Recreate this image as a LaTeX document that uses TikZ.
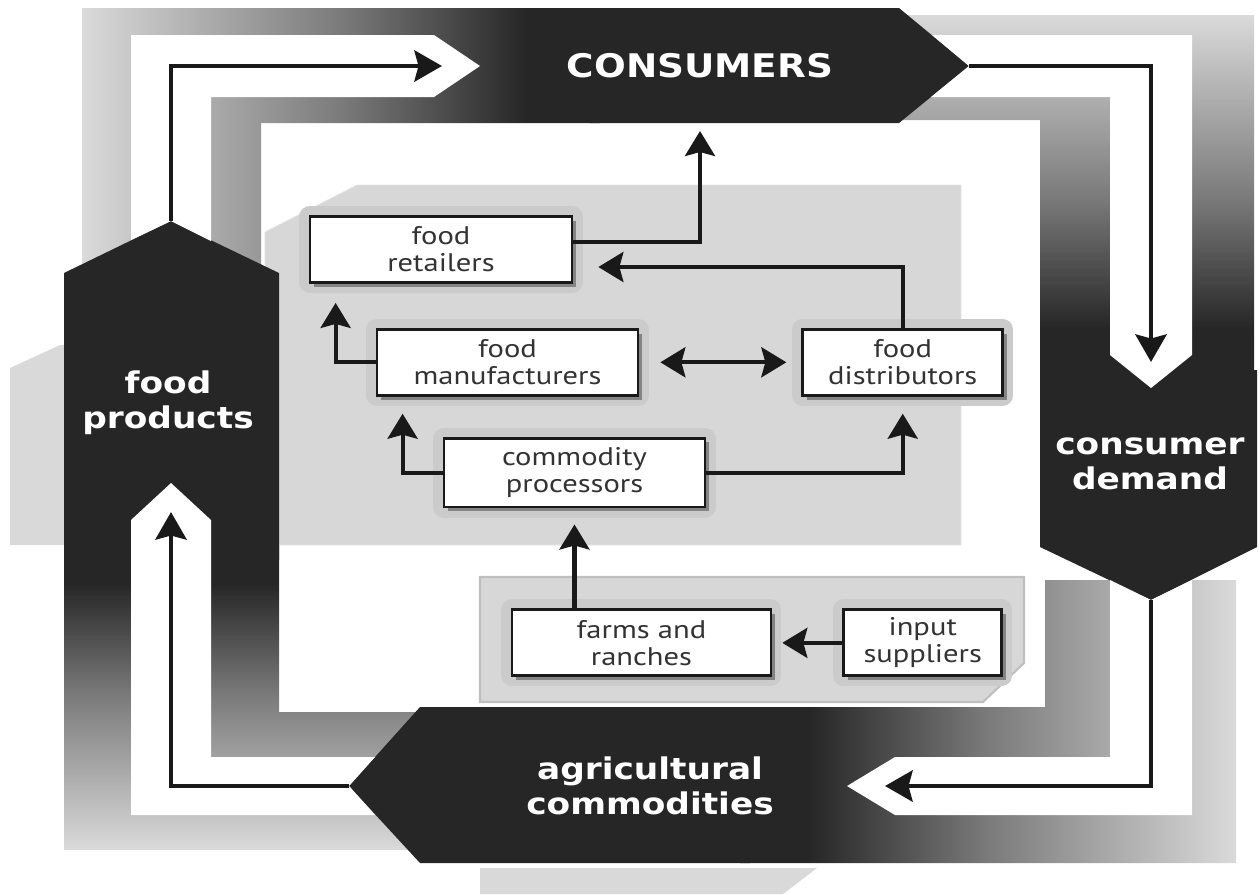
\documentclass[tikz,border=0pt]{standalone}
\usepackage{fontspec}
\setmainfont{PT Sans}[FakeStretch=1.2]
\newfontfamily\hexfont{DejaVu Sans}[FakeStretch=1.15]
\usepackage{xcolor}
\usetikzlibrary{arrows.meta, positioning, shadows}

\definecolor{hexdark}{HTML}{262626}
\definecolor{bandlight}{HTML}{DADADA}
\definecolor{panelgray}{HTML}{D7D7D7}
\definecolor{halogray}{HTML}{CBCBCB}

% light-to-dark fade used by every leg of the ring
\pgfdeclarehorizontalshading{ringfade}{100bp}{color(0bp)=(bandlight); color(25bp)=(bandlight);
  color(50bp)=(black!52); color(68bp)=(hexdark); color(100bp)=(hexdark)}

\begin{document}
\begin{tikzpicture}[
  x=0.02cm, y=-0.02cm,
  box/.style={draw=black!90, line width=1.6pt, fill=white, align=center, text=black!80,
    minimum height=1.32cm, inner sep=2pt, font=\fontsize{14.5}{15.5}\selectfont,
    preaction={draw=halogray, line width=12pt, line join=round},
    drop shadow={shadow xshift=2.5pt, shadow yshift=-2.5pt, fill=black!60, opacity=0.7}},
  arr/.style={-{Stealth[length=0.5cm, width=0.6cm, inset=0.08cm]}, line width=2.3pt, draw=black!90},
  arrs/.style={arr, {Stealth[length=0.5cm, width=0.6cm, inset=0.08cm]}-{Stealth[length=0.5cm, width=0.6cm, inset=0.08cm]}},
  flow/.style={-{Stealth[length=0.55cm, width=0.62cm, inset=0.08cm]}, line width=2.8pt, draw=black!90},
  ring/.style={shading=ringfade, shading angle=#1},
  hex/.style={fill=hexdark},
  lane/.style={fill=white},
  tag/.style={text=white, align=center, font=\hexfont\bfseries\fontsize{17}{20}\selectfont}
]
  \useasboundingbox (0,0) rectangle (1260,894);

  % pale copies behind the side labels
  \fill[black!15] (10,545) -- (10,368) -- (60,345) -- (70,345) -- (70,545) -- cycle;
  \fill[black!15] (480,868) -- (817,868) -- (783,894) -- (480,894) -- cycle;

  % gradient ring, one leg per side
  \shade[ring=0] (82,8) -- (600,8) -- (600,123) -- (261,123) -- (261,290) -- (82,290) -- cycle;
  \shade[ring=-90] (860,15) -- (1254,15) -- (1254,380) -- (1040,380) -- (1040,120) -- (860,120) -- cycle;
  \shade[ring=180] (740,707) -- (1045,707) -- (1045,580) -- (1236,580) -- (1236,863) -- (740,863) -- cycle;
  \shade[ring=90] (64,540) -- (279,540) -- (279,712) -- (440,712) -- (440,850) -- (64,850) -- cycle;

  % inner panels
  \fill[panelgray, draw=black!10] (265,232) -- (357,185) -- (961,185) -- (961,545) -- (265,545) -- cycle;
  \fill[panelgray, draw=black!25, line width=1.2pt] (480,577) -- (1024,577) -- (1024,663) -- (983,702) -- (480,702) -- cycle;

  % dark label shapes
  \fill[hex] (64,273) -- (171,221) -- (279,273) -- (279,560) -- (64,560) -- cycle;
  \fill[hex] (590,8) -- (899,8) -- (969,66) -- (899,123) -- (590,123) -- cycle;
  \fill[hex] (1040,370) -- (1257,370) -- (1257,547) -- (1151,600) -- (1040,547) -- cycle;
  \fill[hex] (349,786) -- (420,707) -- (750,707) -- (750,863) -- (420,863) -- cycle;

  % white lanes
  \fill[lane] (131,240) -- (131,35) -- (434,35) -- (480,66) -- (434,97) -- (211,97) -- (211,241) -- (171,221) -- cycle;
  \fill[lane] (932,35) -- (1192,35) -- (1192,355) -- (1151,388) -- (1110,355) -- (1110,97) -- (931,97) -- (969,66) -- cycle;
  \fill[lane] (1110,580) -- (1151,600) -- (1192,580) -- (1192,815) -- (895,815) -- (847,786) -- (895,757) -- (1110,757) -- cycle;
  \fill[lane] (375,757) -- (349,786) -- (375,815) -- (131,815) -- (131,520) -- (171,483) -- (211,520) -- (211,757) -- cycle;

  \coordinate (fpTop) at (171,221);
  \coordinate (toCons) at (442,66);
  \coordinate (consTip) at (969,66);
  \coordinate (toCd) at (1151,362);
  \coordinate (cdTip) at (1151,600);
  \coordinate (toAg) at (885,786);
  \coordinate (agTip) at (349,786);
  \coordinate (toFp) at (171,512);
  \coordinate (consBase) at (700,131);

  \draw[flow] (fpTop) |- (toCons);
  \draw[flow] (consTip) -| (toCd);
  \draw[flow] (cdTip) |- (toAg);
  \draw[flow] (agTip) -| (toFp);

  \node[tag, font=\hexfont\bfseries\fontsize{18.5}{20}\selectfont] (cons) at (700,66) {CONSUMERS};
  \node[tag] (fp) at (168,403) {food\\products};
  \node[tag] (cd) at (1150,464) {consumer\\demand};
  \node[tag] (ag) at (650,786) {agricultural\\commodities};

  \node[box, minimum width=5.24cm] (retail) at (441,249.5) {food\\retailers};
  \node[box, minimum width=5.22cm, below=0.88cm of retail, xshift=1.33cm] (manuf) {food\\manufacturers};
  \node[box, minimum width=4cm, right=3.24cm of manuf] (distrib) {food\\distributors};
  \node[box, minimum width=5.22cm, minimum height=1.38cm, below=0.8cm of manuf, xshift=1.34cm] (proc) {commodity\\processors};
  \node[box, minimum width=5.18cm, below=2cm of proc, xshift=1.34cm] (farms) {farms and\\ranches};
  \node[box, minimum width=3.16cm, right=1.4cm of farms] (input) {input\\suppliers};

  \draw[arr] ([yshift=0.15cm]retail.east) -| (consBase);
  \draw[arr] (distrib.north) |- ([xshift=0.5cm, yshift=-0.35cm]retail.east);
  \draw[arr] (manuf.west) -| ([xshift=0.54cm, yshift=-0.38cm]retail.south west);
  \draw[arrs] ([xshift=0.42cm]manuf.east) -- ([xshift=-0.3cm]distrib.west);
  \draw[arr] (proc.west) -| ([xshift=0.54cm, yshift=-0.34cm]manuf.south west);
  \draw[arr] (proc.east) -| ([yshift=-0.34cm]distrib.south);
  \draw[arr] (proc.south |- farms.north) -- ([yshift=-0.32cm]proc.south);
  \draw[arr] (input.west) -- ([xshift=0.2cm]farms.east);
\end{tikzpicture}
\end{document}
